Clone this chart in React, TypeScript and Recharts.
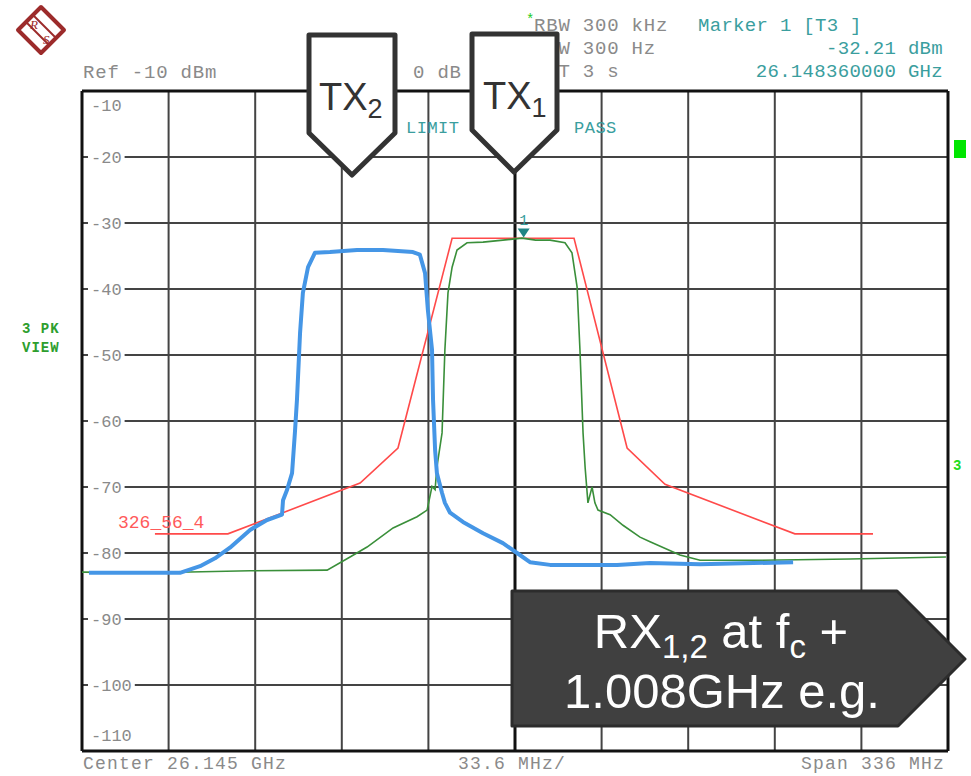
import React from "react";
import { LineChart, Line, XAxis, YAxis, ReferenceLine, ReferenceDot } from "recharts";

// Frequency offsets from centre (MHz), span 336 MHz, 33.6 MHz/div
const FREQ_MIN = -168;
const FREQ_MAX = 168;
const LEVEL_MIN = -110;
const LEVEL_MAX = -10;

const gridFreqs = [-134.4, -100.8, -67.2, -33.6, 33.6, 67.2, 100.8, 134.4];
const gridLevels = [-20, -30, -40, -50, -60, -70, -80, -90, -100];
const levelLabels = ["-20", "-30", "-40", "-50", "-60", "-70", "-80", "-90", "-100"];

// Limit line (red)
const limitFreq = [-139.7, -111.4, -60.1, -45.4, -24.4, 22.9, 43.5, 58.2, 108.6, 138.9];
const limitLevel = [-77.1, -77.1, -69.4, -64.1, -32.3, -32.3, -64.1, -69.6, -77.1, -77.1];

// TX1 trace (green)
const tx1Freq = [-168, -140, -102.8, -72.9, -64.0, -57.4, -47.3, -38.0, -34.1, -32.2, -31.0, -30.3, -28.3, -27.2, -26.0, -24.4, -22.5, -18.6, -12.4, -4.7, 2.7, 8.0, 13.6, 19.4, 22.1, 24.1, 25.2, 26.4, 27.2, 28.3, 29.9, 31.0, 32.2, 36.9, 41.9, 48.5, 52.4, 64.0, 71.8, 95.1, 130.0, 167.2];
const tx1Level = [-82.9, -83.0, -82.7, -82.6, -80.6, -79.1, -76.2, -74.5, -73.5, -69.9, -70.4, -67.0, -61.8, -49.2, -40.6, -36.7, -34.1, -33.0, -32.9, -32.6, -32.3, -32.6, -32.6, -33.0, -34.5, -39.7, -49.2, -61.8, -67.0, -72.4, -70.0, -72.4, -73.5, -74.2, -75.8, -77.6, -78.3, -80.3, -81.1, -81.1, -80.9, -80.6];

// TX2 trace (blue)
const tx2Freq = [-165.3, -130.0, -122.2, -116.4, -110.6, -102.8, -96.2, -90.4, -90.0, -88.5, -86.5, -85.4, -84.6, -83.4, -82.3, -80.3, -77.6, -71.8, -61.3, -51.2, -39.6, -36.9, -34.9, -33.8, -32.2, -31.8, -31.0, -30.3, -28.3, -27.2, -25.2, -20.2, -12.4, -4.7, 0.8, 5.8, 13.6, 26.4, 39.6, 52.4, 71.8, 107.9];
const tx2Level = [-83.0, -83.0, -82.0, -80.8, -79.2, -76.5, -75.0, -74.2, -72.0, -70.5, -67.9, -61.8, -56.8, -46.7, -40.6, -36.7, -34.5, -34.4, -34.1, -34.1, -34.4, -34.8, -37.6, -43.2, -49.2, -56.8, -64.4, -67.9, -70.9, -72.4, -73.9, -75.3, -77.0, -78.5, -80.0, -81.4, -81.8, -81.8, -81.8, -81.5, -81.7, -81.4];

const markerFreq = 3.36;
const markerLevel = -32.21;

const zip = (f: number[], v: number[]) => f.map((x, i) => ({ f: x, v: v[i] }));
const limitData = zip(limitFreq, limitLevel);
const tx1Data = zip(tx1Freq, tx1Level);
const tx2Data = zip(tx2Freq, tx2Level);

const MONO = "'Liberation Mono', 'DejaVu Sans Mono', monospace";
const SANS = "'Liberation Sans', Arial, sans-serif";
const GRAY = "#8a8a8a";
const TEAL = "#3a9e9e";

const makeYLabel = (text: string, mode: "mid" | "below" | "above") => (props: any) => {
  const vb = props.viewBox || {};
  const x = vb.x ?? 0;
  const y = vb.y ?? 0;
  if (mode === "below") {
    return (
      <text x={x + 9} y={y + 20} fontFamily={MONO} fontSize={17} fill={GRAY}>{text}</text>
    );
  }
  if (mode === "above") {
    return (
      <text x={x + 9} y={y - 10} fontFamily={MONO} fontSize={17} fill={GRAY}>{text}</text>
    );
  }
  const w = text.length * 10.2 + 6;
  return (
    <g>
      <rect x={x + 6} y={y - 9} width={w} height={18} fill="#ffffff" />
      <text x={x + 9} y={y + 6} fontFamily={MONO} fontSize={17} fill={GRAY}>{text}</text>
    </g>
  );
};

const MarkerShape = (props: any) => {
  const { cx, cy } = props;
  if (cx == null || cy == null) return null;
  return (
    <g>
      <polygon points={`${cx - 6},${cy - 9} ${cx + 6},${cy - 9} ${cx},${cy}`} fill="#1f8585" />
      <text x={cx} y={cy - 13} textAnchor="middle" fontFamily={MONO} fontSize={15} fill={TEAL}>1</text>
    </g>
  );
};

export default function App() {
  return (
    <div style={{ position: "absolute", left: 0, top: 0, width: 971, height: 776, background: "#fff" }}>
      <LineChart width={971} height={776} margin={{ top: 91, right: 23, bottom: 25, left: 82 }}>
        <XAxis type="number" dataKey="f" domain={[FREQ_MIN, FREQ_MAX]} hide allowDataOverflow />
        <YAxis type="number" domain={[LEVEL_MIN, LEVEL_MAX]} hide allowDataOverflow />
        {gridFreqs.map((f) => (
          <ReferenceLine key={"gx" + f} x={f} stroke="#444" strokeWidth={2} />
        ))}
        <ReferenceLine x={0} stroke="#111" strokeWidth={3} />
        {gridLevels.map((l, i) => (
          <ReferenceLine key={"gy" + l} y={l} stroke="#444" strokeWidth={2} label={makeYLabel(levelLabels[i], "mid")} />
        ))}
        <ReferenceLine y={LEVEL_MAX} stroke="#111" strokeWidth={3} label={makeYLabel("-10", "below")} />
        <ReferenceLine y={LEVEL_MIN} stroke="#111" strokeWidth={3} label={makeYLabel("-110", "above")} />
        <ReferenceLine x={FREQ_MIN} stroke="#111" strokeWidth={3} />
        <ReferenceLine x={FREQ_MAX} stroke="#111" strokeWidth={3} />
        <Line data={limitData} dataKey="v" type="linear" stroke="#ff4a4a" strokeWidth={1.6} dot={false} isAnimationActive={false} />
        <Line data={tx1Data} dataKey="v" type="linear" stroke="#3a8f3a" strokeWidth={1.6} dot={false} isAnimationActive={false} />
        <Line data={tx2Data} dataKey="v" type="linear" stroke="#4596e6" strokeWidth={4} dot={false} isAnimationActive={false} strokeLinejoin="round" />
        <ReferenceDot x={markerFreq} y={markerLevel} shape={MarkerShape} />
      </LineChart>
      <svg width={971} height={776} style={{ position: "absolute", left: 0, top: 0, pointerEvents: "none" }}>
        {/* R&S logo */}
        <g stroke="#9c2b2b" fill="none">
          <polygon points="41,7 64,30 41,53 18,30" strokeWidth={4} strokeLinejoin="round" />
          <line x1="26" y1="22" x2="49" y2="45" strokeWidth={2} />
          <line x1="33" y1="15" x2="56" y2="38" strokeWidth={2} />
        </g>
        <text x={30} y={29} fontFamily="'Liberation Serif', serif" fontStyle="italic" fontSize={13} fill="#9c2b2b">R</text>
        <text x={43} y={44} fontFamily="'Liberation Serif', serif" fontStyle="italic" fontSize={13} fill="#9c2b2b">S</text>

        {/* header */}
        <text x={83} y={78} fontFamily={MONO} fontSize={19} letterSpacing={0.8} fill={GRAY}>Ref -10 dBm</text>
        <text x={413} y={78} fontFamily={MONO} fontSize={19} letterSpacing={0.8} fill={GRAY}>0 dB</text>
        <text x={526} y={24} fontFamily={MONO} fontSize={14} fill="#22cc22">*</text>
        <text x={534} y={31} fontFamily={MONO} fontSize={19} letterSpacing={0.8} fill={GRAY}>RBW 300 kHz</text>
        <text x={534} y={54} fontFamily={MONO} fontSize={19} letterSpacing={0.8} fill={GRAY}>VBW 300 Hz</text>
        <text x={534} y={77} fontFamily={MONO} fontSize={19} letterSpacing={0.8} fill={GRAY}>SWT 3 s</text>
        <text x={698} y={31} fontFamily={MONO} fontSize={19} letterSpacing={0.3} fill={TEAL}>Marker 1 [T3 ]</text>
        <text x={943} y={54} textAnchor="end" fontFamily={MONO} fontSize={19} letterSpacing={0.3} fill={TEAL}>-32.21 dBm</text>
        <text x={943} y={77} textAnchor="end" fontFamily={MONO} fontSize={19} letterSpacing={0.3} fill={TEAL}>26.148360000 GHz</text>

        <text x={406} y={133} fontFamily={MONO} fontSize={17} letterSpacing={0.5} fill={TEAL}>LIMIT</text>
        <text x={574} y={133} fontFamily={MONO} fontSize={17} letterSpacing={0.5} fill={TEAL}>PASS</text>

        <text x={22} y={333} fontFamily={MONO} fontSize={14} fontWeight="bold" letterSpacing={1} fill="#2e9e2e">3 PK</text>
        <text x={22} y={352} fontFamily={MONO} fontSize={14} fontWeight="bold" letterSpacing={1} fill="#2e9e2e">VIEW</text>
        <rect x={954} y={140} width={12} height={18} fill="#00e600" />
        <text x={953} y={470} fontFamily={MONO} fontSize={14} fontWeight="bold" fill="#22dd22">3</text>

        <text x={118} y={528} fontFamily={MONO} fontSize={18} fill="#ff5a5a">326_56_4</text>

        {/* footer */}
        <text x={83} y={769} fontFamily={MONO} fontSize={18} letterSpacing={1.2} fill={GRAY}>Center 26.145 GHz</text>
        <text x={458} y={769} fontFamily={MONO} fontSize={18} letterSpacing={1.2} fill={GRAY}>33.6 MHz/</text>
        <text x={945} y={769} textAnchor="end" fontFamily={MONO} fontSize={18} letterSpacing={1.2} fill={GRAY}>Span 336 MHz</text>

        {/* TX callouts */}
        <polygon points="309,35 395,35 395,133 352,175 309,133" fill="#fff" stroke="#333" strokeWidth={5} strokeLinejoin="round" />
        <text x={319} y={110} fontFamily={SANS} fontSize={38} fill="#333">TX<tspan fontSize={27} dy={8}>2</tspan></text>
        <polygon points="472,34 557,34 557,130 514,172 472,130" fill="#fff" stroke="#333" strokeWidth={5} strokeLinejoin="round" />
        <text x={483} y={109} fontFamily={SANS} fontSize={38} fill="#333">TX<tspan fontSize={27} dy={8}>1</tspan></text>

        {/* RX callout */}
        <polygon points="512,591 897,591 965,659 898,726 512,726" fill="#404040" stroke="#2c2c2c" strokeWidth={3} strokeLinejoin="round" />
        <text x={721} y={648} textAnchor="middle" fontFamily={SANS} fontSize={49} fill="#fff">
          RX<tspan fontSize={33} dy={10}>1,2</tspan><tspan dy={-10}> at f</tspan><tspan fontSize={33} dy={10}>c</tspan><tspan dy={-10}> +</tspan>
        </text>
        <text x={722} y={708} textAnchor="middle" fontFamily={SANS} fontSize={49} fill="#fff">1.008GHz e.g.</text>
      </svg>
    </div>
  );
}
